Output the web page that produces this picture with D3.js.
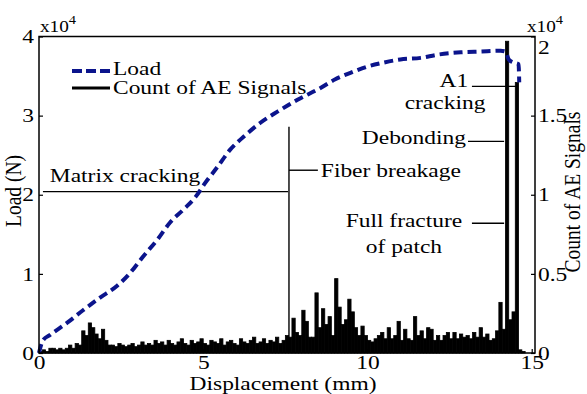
<!DOCTYPE html>
<html><head><meta charset="utf-8">
<script src="https://cdn.jsdelivr.net/npm/d3@7"></script>
<style>
body{margin:0;background:#fff}
</style>
</head><body>
<svg id="c" width="587" height="394"></svg>
<script>
// ---------- data ----------
// Load curve: displacement (mm) and load (x10^4 N)
const loadDisp = [0, 0.12, 0.34, 0.85, 1.34, 1.86, 2.38, 2.77, 3.17, 3.60, 3.99, 4.39, 4.76, 5.06, 5.43, 5.82, 6.22, 6.74, 7.26, 7.87, 8.57, 9.02, 9.48, 10.0, 10.49, 11.0, 11.62, 12.13, 12.84, 13.45, 14.05, 14.2, 14.3, 14.45, 14.6, 14.62];
const loadVal  = [0, 0.16, 0.23, 0.38, 0.54, 0.70, 0.85, 1.01, 1.22, 1.43, 1.65, 1.81, 1.97, 2.15, 2.35, 2.57, 2.73, 2.91, 3.05, 3.20, 3.35, 3.46, 3.54, 3.62, 3.67, 3.71, 3.73, 3.77, 3.80, 3.81, 3.82, 3.81, 3.71, 3.67, 3.65, 3.42];

// AE signal counts (x10^4) per 0.1 mm displacement bin, starting at 0 mm
const aeBinWidth = 0.1;
const aeCounts = [
  0.01,0.02,0.01,0.03,0.03,0.02,0.03,0.02,0.03,0.05,
  0.03,0.06,0.05,0.14,0.11,0.19,0.16,0.12,0.09,0.15,
  0.08,0.05,0.05,0.04,0.06,0.05,0.04,0.05,0.06,0.04,
  0.05,0.07,0.05,0.06,0.05,0.08,0.06,0.07,0.05,0.08,
  0.06,0.05,0.07,0.09,0.06,0.05,0.08,0.06,0.07,0.09,
  0.06,0.05,0.08,0.07,0.06,0.09,0.05,0.07,0.08,0.06,
  0.05,0.09,0.07,0.06,0.08,0.10,0.06,0.07,0.09,0.06,
  0.08,0.07,0.10,0.06,0.08,0.11,0.10,0.22,0.13,0.11,
  0.27,0.20,0.10,0.10,0.38,0.16,0.28,0.18,0.23,0.11,
  0.47,0.29,0.18,0.21,0.34,0.26,0.16,0.11,0.17,0.11,
  0.08,0.07,0.09,0.11,0.13,0.09,0.16,0.09,0.11,0.20,
  0.08,0.15,0.09,0.08,0.23,0.11,0.14,0.09,0.16,0.15,
  0.08,0.11,0.08,0.11,0.13,0.09,0.13,0.09,0.12,0.10,
  0.11,0.09,0.13,0.10,0.16,0.10,0.12,0.08,0.09,0.14,
  0.32,0.15,1.97,0.21,0.26,1.71,0.02,0.01,0,0
];

const xTicks = [0, 5, 10, 15];
const loadTicks = [0, 1, 2, 3, 4];
const countTicks = [0, 0.5, 1, 1.5, 2];

// annotations in data units (x: mm, y: load x10^4 N)
const annoLines = [
  {x1: 0.12, x2: 7.58, y1: 2.04, y2: 2.04},
  {x1: 7.61, x2: 7.61, y1: 0.0,  y2: 2.86},
  {x1: 7.61, x2: 8.49, y1: 2.31, y2: 2.31},
  {x1: 13.06, x2: 14.16, y1: 2.675, y2: 2.675},
  {x1: 13.18, x2: 14.16, y1: 1.64, y2: 1.64},
  {x1: 13.18, x2: 14.58, y1: 3.37, y2: 3.37}
];
const annoTexts = [
  {t: "Matrix cracking", x: 0.33, y: 2.16, a: "start"},
  {t: "Fiber breakage", x: 8.58, y: 2.22, a: "start"},
  {t: "Debonding", x: 13.0, y: 2.64, a: "end"},
  {t: "Full fracture", x: 11.11, y: 1.59, a: "middle"},
  {t: "of patch", x: 11.11, y: 1.26, a: "middle"},
  {t: "A1", x: 12.63, y: 3.36, a: "middle"},
  {t: "cracking", x: 12.36, y: 3.08, a: "middle"}
];

// ---------- layout ----------
const L = 39, R = 535, T = 36.5, B = 353;
const FAMILY = '"Liberation Serif", "Times New Roman", Tinos, serif';
const FS = 19.5;
const svg = d3.select("#c");
svg.append("rect").attr("width", 587).attr("height", 394).attr("fill", "#fff");

// horizontal stretch so that the axis title spans its reference width
const probe = svg.append("text").attr("font-size", FS).style("font-family", FAMILY).text("Displacement (mm)");
const SX = 187 / probe.node().getComputedTextLength();
probe.remove();

const x = d3.scaleLinear().domain([0, 15.1]).range([L, R]);
const yL = d3.scaleLinear().domain([0, 4]).range([B, T]);
const yR = d3.scaleLinear().domain([0, 2]).range([B, T]);

function txt(g, s, px, py, anchor, size, rot) {
  return g.append("text")
    .attr("transform", `translate(${px},${py}) scale(${SX},1)` + (rot ? ` rotate(${rot})` : ""))
    .attr("text-anchor", anchor || "start")
    .attr("font-size", size || FS)
    .style("font-family", FAMILY).attr("fill", "#000")
    .text(s);
}

// bars
svg.append("g").selectAll("rect").data(aeCounts).join("rect")
  .attr("x", (d, i) => x(i * aeBinWidth))
  .attr("width", x(aeBinWidth) - x(0))
  .attr("y", d => yR(d))
  .attr("height", d => yR(0) - yR(d))
  .attr("fill", "#000").attr("stroke", "#000").attr("stroke-width", 0.8);

// annotation lines
svg.append("g").selectAll("line").data(annoLines).join("line")
  .attr("x1", d => x(d.x1)).attr("x2", d => x(d.x2))
  .attr("y1", d => yL(d.y1)).attr("y2", d => yL(d.y2))
  .attr("stroke", "#000").attr("stroke-width", 1.4);

const ag = svg.append("g");
annoTexts.forEach(d => txt(ag, d.t, x(d.x), yL(d.y), d.a));

// load curve
const BLUE = "#0b148c";
const line = d3.line().x((d, i) => x(loadDisp[i])).y(d => yL(d)).curve(d3.curveMonotoneX);
svg.append("path").attr("d", line(loadVal))
  .attr("fill", "none").attr("stroke", BLUE).attr("stroke-width", 4)
  .attr("stroke-dasharray", "9,5");

// frame
svg.append("rect").attr("x", L).attr("y", T).attr("width", R - L).attr("height", B - T)
  .attr("fill", "none").attr("stroke", "#000").attr("stroke-width", 1.5);

// axes
function styleAxis(g) {
  g.select(".domain").remove();
  g.attr("font-family", null).attr("font-size", null);
  g.selectAll(".tick line").attr("stroke", "#000").attr("stroke-width", 1.2);
  g.selectAll(".tick text").attr("font-size", FS).style("font-family", FAMILY).attr("fill", "#000");
}
const gx = svg.append("g").attr("transform", `translate(0,${B})`)
  .call(d3.axisBottom(x).tickValues(xTicks).tickSize(-4).tickPadding(2).tickFormat(d3.format("d")));
styleAxis(gx);
gx.selectAll(".tick text").attr("transform", `scale(${SX},1)`);

const gl = svg.append("g").attr("transform", `translate(${L},0)`)
  .call(d3.axisLeft(yL).tickValues(loadTicks).tickSize(-4).tickPadding(5).tickFormat(d3.format("d")));
styleAxis(gl);
gl.selectAll(".tick text").attr("x", -5 / SX).attr("transform", `scale(${SX},1)`);

const gr = svg.append("g").attr("transform", `translate(${R},0)`)
  .call(d3.axisRight(yR).tickValues(countTicks).tickSize(-4).tickPadding(3).tickFormat(d => d3.format("")(d)));
styleAxis(gr);
gr.selectAll(".tick text").attr("x", 3 / SX).attr("transform", `scale(${SX},1)`)
  .attr("dy", d => d === 2 ? "0.85em" : "0.32em");

// exponent labels
function expo(px, py) {
  const t = svg.append("text").attr("transform", `translate(${px},${py}) scale(${SX},1)`)
    .attr("font-size", 16).style("font-family", FAMILY).attr("fill", "#000");
  t.append("tspan").text("x10");
  t.append("tspan").attr("font-size", 12).attr("dy", -8).text("4");
}
expo(40, 32);
expo(527, 32);

// axis titles
txt(svg, "Displacement (mm)", 283, 390, "middle");
txt(svg, "Load (N)", 21, 191, "middle", FS, -90);
txt(svg, "Count of AE Signals", 580, 192, "middle", FS, -90);

// legend
const lg = svg.append("g");
lg.append("line").attr("x1", 72).attr("x2", 110).attr("y1", 71).attr("y2", 71)
  .attr("stroke", BLUE).attr("stroke-width", 4).attr("stroke-dasharray", "10,4");
txt(lg, "Load", 113, 75);
lg.append("line").attr("x1", 72).attr("x2", 110).attr("y1", 88).attr("y2", 88)
  .attr("stroke", "#000").attr("stroke-width", 3);
txt(lg, "Count of AE Signals", 113, 94);
</script>
</body></html>
